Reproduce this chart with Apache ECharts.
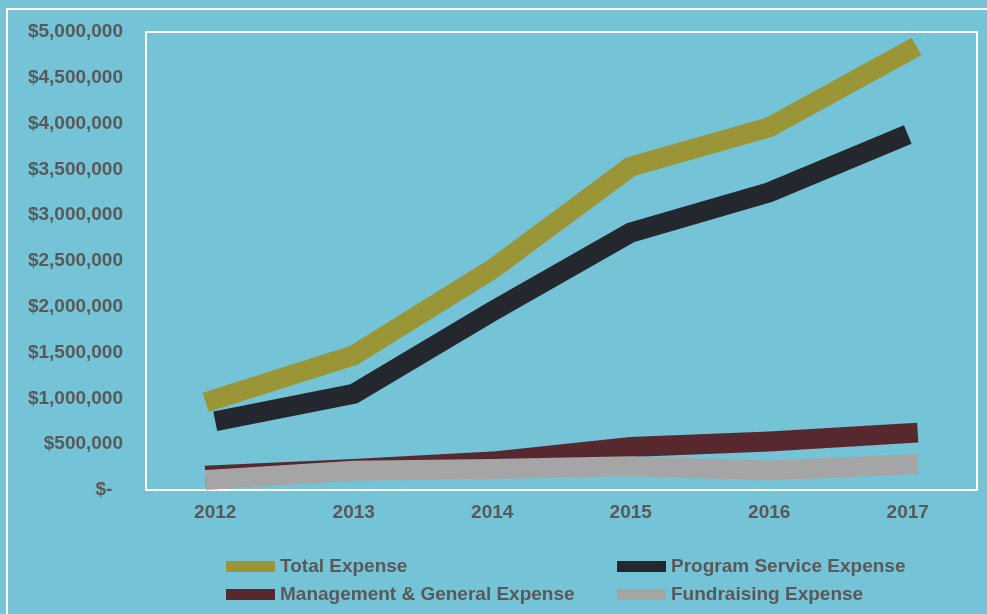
<!DOCTYPE html>
<html>
<head>
<meta charset="utf-8">
<script src="https://cdn.jsdelivr.net/npm/echarts@6/dist/echarts.min.js"></script>
<style>
  html, body { margin: 0; padding: 0; background: #74c3d6; }
  #chart { width: 987px; height: 614px; }
</style>
</head>
<body>
<div id="chart"></div>
<script>
// 年份
const years = ['2012', '2013', '2014', '2015', '2016', '2017'];
// 各项支出
const totalExpense = [990000, 1470000, 2410000, 3530000, 3960000, 4790000];
const programExpense = [750000, 1050000, 1950000, 2810000, 3250000, 3880000];
const managementExpense = [160000, 230000, 310000, 470000, 530000, 620000];
const fundraisingExpense = [115000, 210000, 230000, 260000, 213000, 280000];

const textColor = '#595959';
const font = 'Liberation Sans, Arial, sans-serif';

function lineSeries(name, data, color, cap) {
  return {
    name: name,
    type: 'line',
    data: data,
    symbol: 'none',
    clip: false,
    lineStyle: { color: color, width: 20, cap: cap, join: 'miter' },
    itemStyle: { color: color }
  };
}

function fmtMoney(v) {
  if (v === 0) return '$-  ';
  return '$' + v.toLocaleString('en-US');
}

let chart = echarts.init(document.getElementById('chart'));
let legendText = { color: textColor, fontSize: 19, fontWeight: 'bold', fontFamily: font };

chart.setOption({
  backgroundColor: '#74c3d6',
  animation: false,
  graphic: [{
    type: 'rect',
    shape: { x: 7, y: 9, width: 1000, height: 700 },
    style: { fill: 'none', stroke: '#ffffff', lineWidth: 2 },
    silent: true
  }],
  grid: {
    left: 146, top: 32, width: 831, height: 458,
    show: true, borderColor: '#ffffff', borderWidth: 2,
    backgroundColor: 'transparent'
  },
  xAxis: {
    type: 'category',
    data: years,
    boundaryGap: true,
    axisLine: { show: false },
    axisTick: { show: false },
    axisLabel: { color: textColor, fontSize: 19, fontWeight: 'bold', fontFamily: font, margin: 13 }
  },
  yAxis: {
    type: 'value',
    min: 0, max: 5000000, interval: 500000,
    splitLine: { show: false },
    axisLine: { show: false },
    axisTick: { show: false },
    axisLabel: { color: textColor, fontSize: 19, fontWeight: 'bold', fontFamily: font, margin: 23, formatter: fmtMoney }
  },
  legend: [{
    data: ['Total Expense', 'Management & General Expense'],
    orient: 'vertical', left: 221, top: 552,
    icon: 'rect', itemWidth: 49, itemHeight: 11, itemGap: 9,
    textStyle: legendText
  }, {
    data: ['Program Service Expense', 'Fundraising Expense'],
    orient: 'vertical', left: 612, top: 552,
    icon: 'rect', itemWidth: 49, itemHeight: 11, itemGap: 9,
    textStyle: legendText
  }],
  series: [
    lineSeries('Total Expense', totalExpense, '#9a9537', 'square'),
    lineSeries('Program Service Expense', programExpense, '#25272f', 'butt'),
    lineSeries('Management & General Expense', managementExpense, '#57292f', 'square'),
    lineSeries('Fundraising Expense', fundraisingExpense, '#a5a5a5', 'square')
  ]
});
</script>
</body>
</html>
